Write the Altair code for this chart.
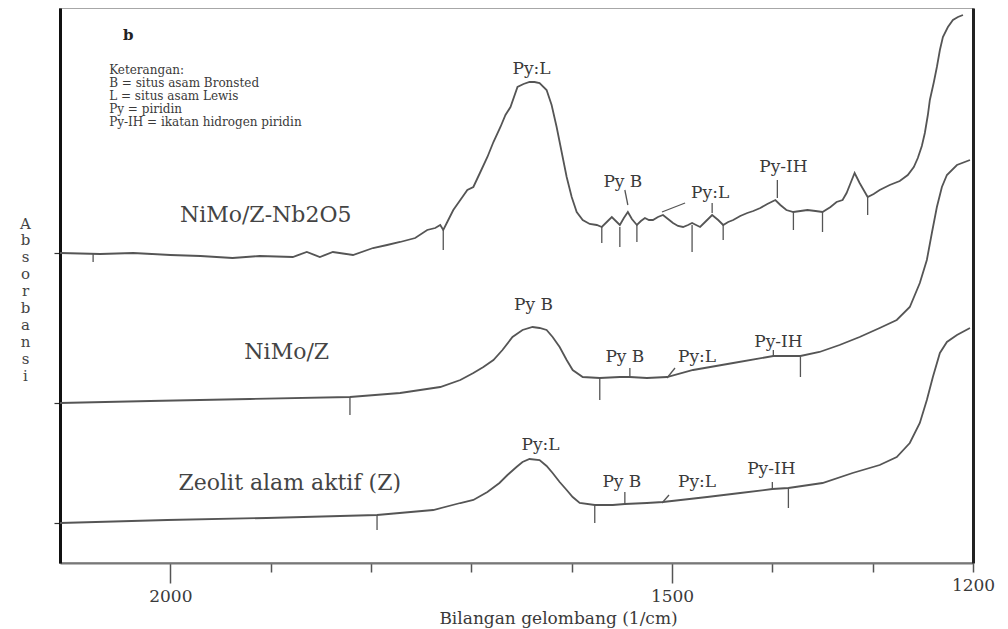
import altair as alt
import pandas as pd

FONT = "DejaVu Serif"
INK = "#3a3a3a"
LINE = "#555555"

# ---------------- spectra: wavenumber (1/cm), absorbance (arb. units, stacked) ----------------
samples = ["NiMo/Z-Nb2O5", "NiMo/Z", "Zeolit alam aktif (Z)"]

nb_wn = [2110, 2070, 2037, 2000, 1970, 1938, 1911, 1878, 1864, 1851, 1838, 1818, 1798, 1784, 1771,
         1756, 1744, 1736, 1731, 1728, 1724, 1718, 1711, 1704, 1698, 1691, 1684, 1678, 1671, 1666,
         1661, 1654, 1648, 1642, 1637, 1632, 1625, 1620, 1615, 1610, 1605, 1600, 1595, 1589, 1582,
         1575, 1570, 1565, 1560, 1556, 1552, 1548, 1544, 1540, 1535, 1531, 1527, 1523, 1519, 1514,
         1509, 1504, 1499, 1494, 1489, 1484, 1480, 1476, 1472, 1466, 1460, 1454, 1449, 1444, 1439,
         1432, 1425, 1419, 1412, 1405, 1397, 1392, 1386, 1379, 1372, 1365, 1357, 1350, 1342, 1336,
         1330, 1326, 1322, 1318, 1313, 1309, 1305, 1299, 1293, 1283, 1273, 1265, 1259, 1255, 1251,
         1248, 1245, 1243, 1239, 1236, 1233, 1230, 1225, 1220, 1215, 1210]
nb_abs = [3.10, 3.09, 3.10, 3.08, 3.07, 3.05, 3.07, 3.06, 3.11, 3.06, 3.11, 3.08, 3.15, 3.18, 3.21,
          3.25, 3.33, 3.35, 3.38, 3.33, 3.41, 3.53, 3.63, 3.73, 3.76, 3.91, 4.06, 4.21, 4.36, 4.48,
          4.56, 4.76, 4.79, 4.81, 4.81, 4.80, 4.73, 4.58, 4.36, 4.11, 3.86, 3.66, 3.51, 3.43, 3.39,
          3.38, 3.36, 3.41, 3.46, 3.42, 3.38, 3.45, 3.51, 3.44, 3.38, 3.42, 3.45, 3.43, 3.43, 3.46,
          3.48, 3.44, 3.40, 3.37, 3.36, 3.38, 3.40, 3.38, 3.36, 3.42, 3.48, 3.43, 3.38, 3.41, 3.43,
          3.47, 3.50, 3.52, 3.55, 3.59, 3.63, 3.58, 3.53, 3.51, 3.52, 3.53, 3.52, 3.51, 3.56, 3.61,
          3.63, 3.70, 3.80, 3.90, 3.80, 3.73, 3.66, 3.69, 3.73, 3.78, 3.82, 3.88, 3.96, 4.05, 4.17,
          4.30, 4.48, 4.63, 4.81, 4.96, 5.13, 5.26, 5.36, 5.43, 5.46, 5.48]

nimo_wn = [2110, 2020, 1921, 1821, 1771, 1731, 1711, 1698, 1688, 1678, 1669, 1659, 1649, 1639, 1632,
           1625, 1619, 1612, 1605, 1599, 1589, 1572, 1552, 1542, 1525, 1505, 1479, 1439, 1399, 1372,
           1353, 1333, 1313, 1293, 1276, 1263, 1253, 1246, 1241, 1236, 1231, 1226, 1216, 1203]
nimo_abs = [1.60, 1.62, 1.64, 1.66, 1.70, 1.76, 1.83, 1.90, 1.96, 2.03, 2.13, 2.26, 2.33, 2.36, 2.35,
            2.33, 2.26, 2.16, 2.03, 1.93, 1.86, 1.85, 1.86, 1.86, 1.85, 1.86, 1.93, 2.00, 2.07, 2.07,
            2.11, 2.18, 2.26, 2.35, 2.43, 2.56, 2.80, 3.03, 3.30, 3.56, 3.76, 3.88, 3.98, 4.03]

zeo_wn = [2110, 2003, 1904, 1794, 1738, 1711, 1698, 1684, 1672, 1664, 1655, 1649, 1642, 1632, 1625,
          1619, 1612, 1605, 1599, 1592, 1577, 1559, 1547, 1525, 1509, 1465, 1432, 1400, 1384, 1350,
          1320, 1293, 1276, 1263, 1253, 1246, 1240, 1233, 1226, 1216, 1203]
zeo_abs = [0.40, 0.43, 0.45, 0.48, 0.53, 0.60, 0.63, 0.71, 0.80, 0.88, 0.96, 1.01, 1.04, 1.03, 0.97,
           0.90, 0.81, 0.73, 0.66, 0.60, 0.58, 0.58, 0.59, 0.60, 0.61, 0.66, 0.70, 0.74, 0.75, 0.80,
           0.90, 0.98, 1.06, 1.20, 1.40, 1.63, 1.86, 2.10, 2.21, 2.28, 2.35]

# ---------------- peak marker / leader segments ----------------
mk_wn = [2077, 1728, 1570, 1552, 1535, 1480, 1449, 1379, 1350, 1305, 1547, 1510, 1460, 1395,
         1821, 1572, 1372, 1542, 1505, 1399,
         1794, 1577, 1384, 1547, 1510, 1400]
mk_wn2 = [2077, 1728, 1570, 1552, 1535, 1480, 1449, 1379, 1350, 1305, 1544, 1487, 1460, 1395,
          1821, 1572, 1372, 1542, 1497, 1399,
          1794, 1577, 1384, 1547, 1503, 1400]
mk_a1 = [3.09, 3.33, 3.36, 3.36, 3.38, 3.38, 3.38, 3.51, 3.51, 3.66, 3.73, 3.51, 3.60, 3.83,
         1.66, 1.85, 2.06, 1.95, 1.85, 2.13,
         0.48, 0.58, 0.75, 0.71, 0.60, 0.81]
mk_a2 = [3.01, 3.13, 3.20, 3.16, 3.21, 3.11, 3.23, 3.33, 3.31, 3.48, 3.58, 3.60, 3.50, 3.65,
         1.48, 1.63, 1.86, 1.85, 1.95, 2.06,
         0.33, 0.40, 0.55, 0.58, 0.68, 0.73]

# ---------------- peak labels ----------------
pk_text = ["Py:L", "Py B", "Py:L", "Py-IH",
           "Py B", "Py B", "Py:L", "Py-IH",
           "Py:L", "Py B", "Py:L", "Py-IH"]
pk_wn = [1640, 1549, 1462, 1389,
         1638, 1547, 1475, 1394,
         1631, 1550, 1475, 1401]
pk_abs = [4.94, 3.81, 3.70, 3.96,
          2.58, 2.06, 2.06, 2.21,
          1.18, 0.81, 0.81, 0.94]

# ---------------- sample labels ----------------
lab_wn = [1905, 1884, 1881]
lab_abs = [3.48, 2.11, 0.80]

# ---------------- legend (keterangan) ----------------
leg_text = ["Keterangan:", "B = situs asam Bronsted", "L = situs asam Lewis",
            "Py = piridin", "Py-IH = ikatan hidrogen piridin"]
leg_wn = [2061, 2061, 2061, 2061, 2061]
leg_abs = [4.93, 4.80, 4.67, 4.54, 4.41]

panel_text = ["b"]
panel_wn = [2042]
panel_abs = [5.28]

# ---------------- tables ----------------
spec = pd.concat([
    pd.DataFrame({"wn": nb_wn, "a": nb_abs, "sample": samples[0]}),
    pd.DataFrame({"wn": nimo_wn, "a": nimo_abs, "sample": samples[1]}),
    pd.DataFrame({"wn": zeo_wn, "a": zeo_abs, "sample": samples[2]}),
], ignore_index=True)
marks = pd.DataFrame({"wn": mk_wn, "wn2": mk_wn2, "a1": mk_a1, "a2": mk_a2})
peaks = pd.DataFrame({"wn": pk_wn, "a": pk_abs, "t": pk_text})
labels = pd.DataFrame({"wn": lab_wn, "a": lab_abs, "t": samples})
legend = pd.DataFrame({"wn": leg_wn, "a": leg_abs, "t": leg_text})
panel = pd.DataFrame({"wn": panel_wn, "a": panel_abs, "t": panel_text})

x_scale = alt.Scale(domain=[1200, 2110], reverse=True, nice=False, zero=False)
y_scale = alt.Scale(domain=[0, 5.55], nice=False, zero=False)

major = "datum.value == 2000 || datum.value == 1500 || datum.value == 1200"
x_axis = alt.Axis(
    values=[2000, 1900, 1800, 1700, 1600, 1500, 1400, 1300, 1200],
    format="d",
    labelExpr="(" + major + ") ? datum.label : ''",
    tickSize={"condition": {"test": "datum.value == 2000 || datum.value == 1500", "value": 20},
              "value": 9},
    tickColor="#555", tickWidth=1.5,
    domainColor="#777", domainWidth=2,
    labelFont=FONT, labelFontSize=17, labelColor=INK, labelPadding=5, labelFlush=False,
    title="Bilangan gelombang (1/cm)", titleFont=FONT, titleFontSize=17,
    titleFontWeight="normal", titleColor=INK, titleX=498, titleY=55,
    titleAlign="center", titleBaseline="middle", grid=False,
)
X = alt.X("wn:Q", scale=x_scale, axis=x_axis)

y_left = alt.Y("a:Q", scale=y_scale, axis=alt.Axis(
    values=[0.40, 1.60, 3.10], labels=False, tickSize=6, tickColor="#333", tickWidth=1.2,
    domainColor="#111", domainWidth=3, grid=False,
    title=list("Absorbansi"), titleAngle=0, titleFont=FONT, titleFontSize=15,
    titleFontWeight="normal", titleColor="#444", titleAlign="center", titleBaseline="middle",
    titleX=-35, titleY=215, titleLineHeight=16.9,
))
y_right = alt.Y("a1:Q", scale=y_scale, axis=alt.Axis(
    orient="right", ticks=False, labels=False, domainColor="#222", domainWidth=3,
    grid=False, title=None))

lines = alt.Chart(spec).mark_line(color=LINE, strokeWidth=1.8).encode(
    x=X, y=y_left, detail="sample:N")

rules = alt.Chart(marks).mark_rule(color=LINE, strokeWidth=1.3).encode(
    x=X, x2="wn2:Q", y=y_right, y2="a2:Q")

peak_txt = alt.Chart(peaks).mark_text(font=FONT, fontSize=17, color=INK,
                                      baseline="middle").encode(
    x=X, y=alt.Y("a:Q", scale=y_scale, axis=None), text="t:N")

lab_txt = alt.Chart(labels).mark_text(font=FONT, fontSize=22, color="#444",
                                      baseline="middle").encode(
    x=X, y=alt.Y("a:Q", scale=y_scale, axis=None), text="t:N")

leg_txt = alt.Chart(legend).mark_text(font=FONT, fontSize=12, color=INK, align="left",
                                      baseline="middle").encode(
    x=X, y=alt.Y("a:Q", scale=y_scale, axis=None), text="t:N")

panel_txt = alt.Chart(panel).mark_text(font=FONT, fontSize=15, fontWeight="bold",
                                       color="#222", baseline="middle").encode(
    x=X, y=alt.Y("a:Q", scale=y_scale, axis=None), text="t:N")

chart = (
    alt.layer(lines, rules, peak_txt, lab_txt, leg_txt, panel_txt)
    .resolve_axis(y="independent")
    .properties(width=913, height=555,
                padding={"left": 52, "top": 0, "right": 27, "bottom": 66},
                autosize=alt.AutoSizeParams(type="none"),
                background="white")
    .configure_view(stroke="#8a8a8a", strokeWidth=1.5)
)

chart.save("out.html", embed_options={"renderer": "svg", "actions": False})
